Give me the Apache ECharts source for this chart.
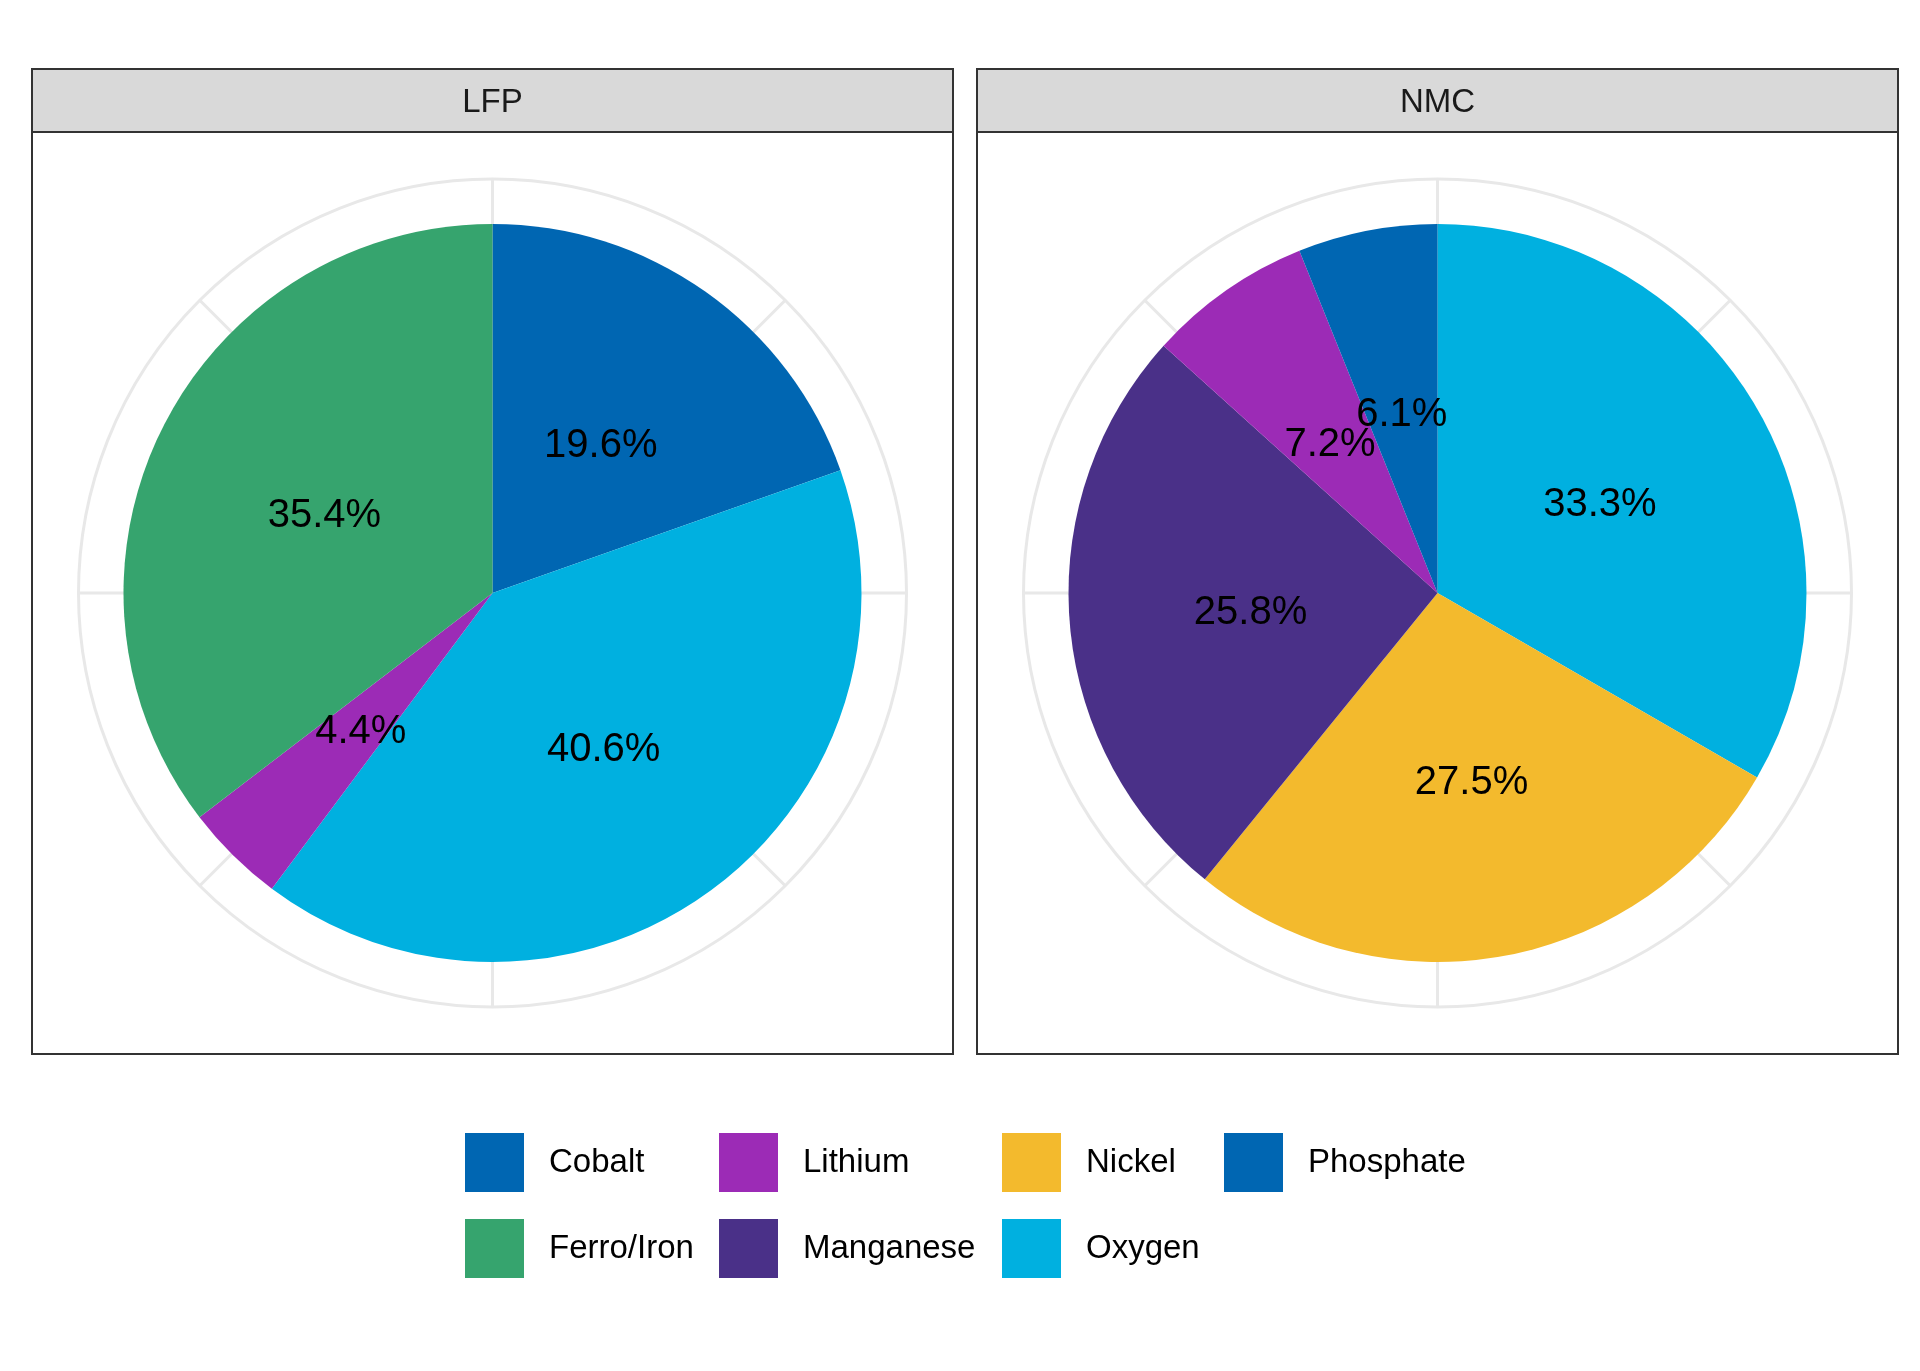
<!DOCTYPE html>
<html style="height: 100%">
 <head>
  <meta charset="utf-8" />
  <script src="https://cdn.jsdelivr.net/npm/echarts@6/dist/echarts.min.js"></script>
 </head>
 <body style="height: 100%; margin: 0; background: #fff">
  <div id="main" style="width:1920px;height:1371px;"></div>
  <script type="text/javascript">
   var panels = ['LFP', 'NMC'];
   var lfpNames = ['Phosphate', 'Oxygen', 'Lithium', 'Ferro/Iron'];
   var lfpValues = [19.6, 40.6, 4.4, 35.4];
   var nmcNames = ['Oxygen', 'Nickel', 'Manganese', 'Lithium', 'Cobalt'];
   var nmcValues = [33.3, 27.5, 25.8, 7.2, 6.1];
   var legendCols = [['Cobalt', 'Ferro/Iron'], ['Lithium', 'Manganese'], ['Nickel', 'Oxygen'], ['Phosphate']];
   var colors = {
     'Cobalt': '#0066B2',
     'Phosphate': '#0066B2',
     'Ferro/Iron': '#36A46E',
     'Lithium': '#9C2BB6',
     'Manganese': '#4A3088',
     'Nickel': '#F3BA2D',
     'Oxygen': '#00B0E0'
   };

   var font = 'Liberation Sans, Arial, sans-serif';
   var myChart = echarts.init(document.getElementById('main'));

   // panel boxes (ggplot facet look)
   var panelX = [32, 977];
   var panelW = 921;
   var stripTop = 69, stripH = 63, bodyTop = 132, bodyH = 922;
   var centers = panelX.map(function (x) { return [x + panelW / 2, bodyTop + bodyH / 2]; });

   var graphics = [];
   panels.forEach(function (name, i) {
     graphics.push({
       type: 'rect', z: -1,
       shape: { x: panelX[i], y: bodyTop, width: panelW, height: bodyH },
       style: { fill: '#fff', stroke: '#333', lineWidth: 2 }
     });
     graphics.push({
       type: 'rect', z: 10,
       shape: { x: panelX[i], y: stripTop, width: panelW, height: stripH },
       style: { fill: '#D9D9D9', stroke: '#333', lineWidth: 2 }
     });
     graphics.push({
       type: 'text', z: 11,
       x: panelX[i] + panelW / 2, y: stripTop + stripH / 2 + 2,
       style: { text: name, fill: '#1A1A1A', font: '33px ' + font, textAlign: 'center', textVerticalAlign: 'middle' }
     });
   });

   function makeData(names, values) {
     return names.map(function (n, i) {
       return { name: n, value: values[i], itemStyle: { color: colors[n] } };
     });
   }

   var polar = centers.map(function (c) { return { center: c, radius: 414 }; });
   var angleAxis = centers.map(function (c, i) {
     return {
       polarIndex: i, type: 'value', min: 0, max: 360, interval: 45, startAngle: 90,
       axisLine: { show: true, lineStyle: { color: '#E8E8E8', width: 3 } },
       axisTick: { show: false }, axisLabel: { show: false },
       splitLine: { show: true, lineStyle: { color: '#E8E8E8', width: 3 } }
     };
   });
   var radiusAxis = centers.map(function (c, i) {
     return {
       polarIndex: i, type: 'value', min: 0, max: 1,
       axisLine: { show: false }, axisTick: { show: false }, axisLabel: { show: false },
       splitLine: { show: false }
     };
   });

   var pieBase = {
     type: 'pie', radius: [0, 369], startAngle: 90, clockwise: true,
     avoidLabelOverlap: false, silent: true, animation: false,
     label: {
       show: true, position: 'inside', color: '#000', fontSize: 40, fontFamily: font,
       offset: [0, 6], overflow: 'none',
       formatter: function (p) { return p.value.toFixed(1) + '%'; }
     },
     labelLayout: { hideOverlap: false },
     labelLine: { show: false },
     itemStyle: { borderWidth: 0 }
   };

   var legendX = [460, 714, 997, 1219];
   var legends = legendCols.map(function (col, i) {
     return {
       orient: 'vertical', left: legendX[i], top: 1128,
       data: col, icon: 'rect', itemWidth: 59, itemHeight: 59, itemGap: 27,
       selectedMode: false,
       textStyle: { fontSize: 33, color: '#000', fontFamily: font, padding: [5, 0, 0, 20] }
     };
   });

   var option = {
     backgroundColor: '#fff',
     animation: false,
     graphic: graphics,
     polar: polar,
     angleAxis: angleAxis,
     radiusAxis: radiusAxis,
     legend: legends,
     series: [
       Object.assign({}, pieBase, { name: panels[0], center: centers[0], data: makeData(lfpNames, lfpValues) }),
       Object.assign({}, pieBase, { name: panels[1], center: centers[1], data: makeData(nmcNames, nmcValues) })
     ]
   };
   myChart.setOption(option);
  </script>
 </body>
</html>
